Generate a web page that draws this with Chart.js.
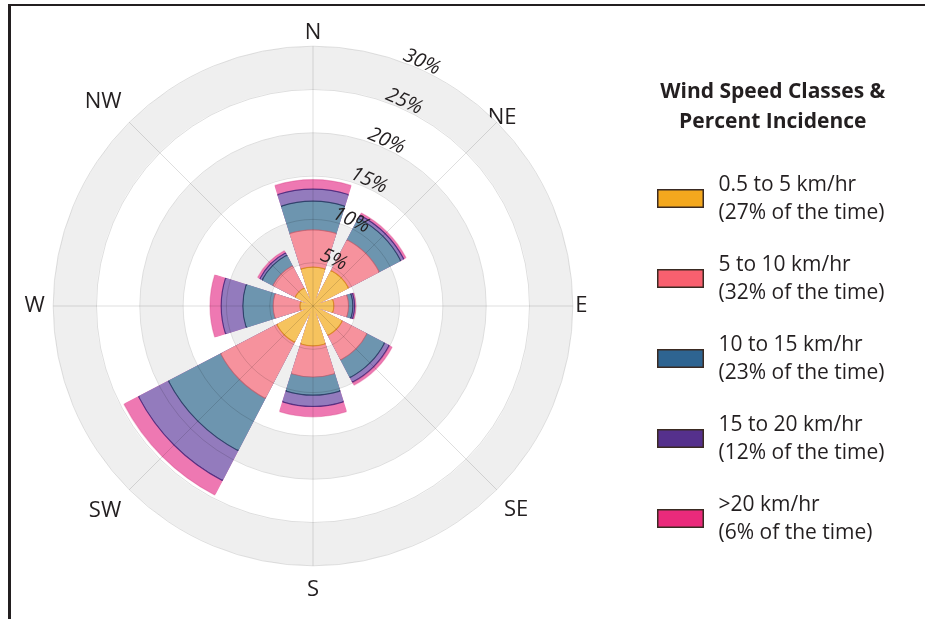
<!DOCTYPE html>
<html>
<head>
<meta charset="utf-8">
<script src="https://cdn.jsdelivr.net/npm/chart.js@4.4.1/dist/chart.umd.min.js"></script>
<style>
  html, body { margin: 0; padding: 0; background: #ffffff; width: 925px; height: 619px; overflow: hidden; position: relative; }
  #frame { position: absolute; left: 8px; top: 4px; right: -20px; bottom: -20px; border-top: 2px solid #231f20; border-left: 3px solid #231f20; }
  #wrap { position: absolute; left: -25px; top: 0; width: 950px; height: 619px; }
</style>
</head>
<body>
<div id="frame"></div>
<div id="wrap"><canvas id="rose"></canvas></div>
<script>
// ---------------- data (percent of time) ----------------
const directions = ['N', 'NE', 'E', 'SE', 'S', 'SW', 'W', 'NW'];
const speedClasses = ['0.5 to 5 km/hr', '5 to 10 km/hr', '10 to 15 km/hr', '15 to 20 km/hr', '>20 km/hr'];
const classIncidence = [27, 32, 23, 12, 6];

const speed0to5   = [4.5, 4.6, 2.4, 3.8, 4.6, 4.7, 1.5, 2.3];
const speed5to10  = [4.3, 4.0, 1.7, 3.2, 3.6, 7.3, 3.1, 2.9];
const speed10to15 = [3.3, 2.8, 0.5, 2.3, 2.1, 6.8, 3.5, 1.4];
const speed15to20 = [1.4, 0.4, 0.2, 0.6, 1.3, 3.9, 2.5, 0.3];
const speedOver20 = [1.1, 0.3, 0.15, 0.4, 1.2, 1.9, 1.3, 0.3];

const radialTickValues = [5, 10, 15, 20, 25, 30];

// ---------------- styling ----------------
const FONT = '"Open Sans", "Noto Sans", sans-serif';
const TEXT = '#231f20';
const fillColors = ['#F6C35E', '#F6929D', '#6D95AF', '#937BBD', '#EE78B2'];
const edgeColors = ['rgba(214,130,30,0.85)', 'rgba(190,80,95,0.6)', 'rgba(35,55,95,0.85)', 'rgba(70,35,120,0.85)', 'rgba(215,60,130,0.35)'];
const swatchColors = ['#F4A81E', '#F8606F', '#2E6491', '#55308C', '#EA2A7B'];
const BAND = '#efefef';
const LINE = 'rgba(0,0,0,0.13)';

const TICK_ANGLE = 24;        // direction of the % labels (deg from north)
const TICK_LABEL_LIFT = 0.85; // % labels sit just outside their circle
const SLOT = 3;               // angular resolution of label slots
const BAR_WIDTH = 35;         // angular width of each petal (deg)
const LABEL_PAD = { N: -9.7, NE: -22.7, E: -7.5, SE: 0.3, S: 0.3, SW: 1.4, W: -1.5, NW: 1 };
const DIR_FONT = { family: FONT, size: 22 };
const TICK_FONT = { family: FONT, size: 20, style: 'italic' };

// label slots round the dial, direction names where they fall
const slotLabels = Array.from({ length: 360 / SLOT }, (_, k) => {
  const a = (TICK_ANGLE + SLOT * k) % 360;
  return a % 45 === 0 ? directions[a / 45] : '';
});

// petals and the gaps between them, in drawing order from TICK_ANGLE
const petals = directions.map((d, i) => ({ dir: i, start: (((45 * i - BAR_WIDTH / 2 - TICK_ANGLE) % 360) + 360) % 360 }))
  .sort((a, b) => a.start - b.start);
const arcDir = [];
const arcAngle = [];
let cursorAngle = 0;
petals.forEach(p => {
  if (p.start > cursorAngle + 1e-9) { arcDir.push(-1); arcAngle.push(p.start - cursorAngle); }
  arcDir.push(p.dir); arcAngle.push(BAR_WIDTH);
  cursorAngle = p.start + BAR_WIDTH;
});
if (cursorAngle < 360 - 1e-9) { arcDir.push(-1); arcAngle.push(360 - cursorAngle); }

// edge only on the outer rim of each class ring
function rimColor(c, ci) {
  if (arcDir[c.dataIndex] < 0) return 'rgba(0,0,0,0)';
  const sc = c.chart.scales && c.chart.scales.r;
  if (!sc || !sc.drawingArea) return fillColors[ci];
  const r = sc.getDistanceFromCenterForValue(c.raw);
  if (!(r > 3)) return edgeColors[ci];
  const g = c.chart.ctx.createRadialGradient(sc.xCenter, sc.yCenter, 0, sc.xCenter, sc.yCenter, r + 2);
  g.addColorStop(0, fillColors[ci]);
  g.addColorStop((r - 1.3) / (r + 2), fillColors[ci]);
  g.addColorStop((r - 0.7) / (r + 2), edgeColors[ci]);
  g.addColorStop(1, edgeColors[ci]);
  return g;
}

const classSeries = [speed0to5, speed5to10, speed10to15, speed15to20, speedOver20];
const datasets = classSeries.map((series, ci) => ({
  label: speedClasses[ci],
  data: arcDir.map(d => d < 0 ? 0 : classSeries.slice(0, ci + 1).reduce((s, arr) => s + arr[d], 0)),
  backgroundColor: fillColors[ci],
  borderColor: (c) => rimColor(c, ci),
  borderWidth: (c) => arcDir[c.dataIndex] < 0 ? 0 : 1.2,
  angle: (c) => arcAngle[c.dataIndex]
}));

// legend swatches (box sits between the two text lines)
function makeSwatch(color) {
  const c = document.createElement('canvas');
  c.width = 69; c.height = 48;
  const g = c.getContext('2d');
  g.fillStyle = color;
  g.fillRect(1, 29, 45, 17);
  g.strokeStyle = '#3a2a22';
  g.lineWidth = 1.5;
  g.strokeRect(0.75, 28.75, 45.5, 17.5);
  return c;
}
const swatches = swatchColors.map(makeSwatch);

const legendLines = speedClasses.map((cls, i) => [cls, '(' + classIncidence[i] + '% of the time)']);

// legend width -> right padding so that the chart area ends where the legend begins
const LEGEND_FONT_SIZE = 21;
const meas = document.createElement('canvas').getContext('2d');
meas.font = LEGEND_FONT_SIZE + 'px ' + FONT;
const longest = Math.max(...legendLines.map(l => meas.measureText(l.reduce((a, b) => a.length > b.length ? a : b)).width));
const LEGEND_PAD = 24, PS_W = 33, LEGEND_LEFT = 676;
const rightPad = 950 - LEGEND_LEFT - (LEGEND_PAD + PS_W + LEGEND_FONT_SIZE / 2 + longest + 10);

const isBand = (v) => v % 5 === 2.5 && Math.floor(v / 5) % 2 === 1;

const pointLabelOpts = (visible) => ({
  display: true,
  font: DIR_FONT,
  color: visible ? TEXT : 'rgba(0,0,0,0)',
  padding: (c) => (LABEL_PAD[c.label] !== undefined ? LABEL_PAD[c.label] : 0)
});

const chart = new Chart(document.getElementById('rose'), {
  type: 'polarArea',
  data: { labels: slotLabels, datasets },
  options: {
    responsive: true,
    maintainAspectRatio: false,
    animation: false,
    layout: { padding: { left: 0, right: rightPad, top: 10.5, bottom: 15.5 } },
    scales: {
      // value axis: shaded bands behind the petals
      r: {
        type: 'radialLinear', min: 0, max: 30, startAngle: TICK_ANGLE,
        ticks: {
          display: true, stepSize: 2.5, maxTicksLimit: 20,
          showLabelBackdrop: false, backdropPadding: 0, font: TICK_FONT,
          callback: () => ''
        },
        grid: {
          circular: true,
          color: (c) => isBand(c.tick.value) ? BAND : 'rgba(0,0,0,0)',
          lineWidth: (c) => isBand(c.tick.value) ? c.scale.getDistanceFromCenterForValue(5) - 1 : 0
        },
        angleLines: { display: false },
        pointLabels: pointLabelOpts(true)
      },
      // thin circles and spokes, drawn over the petals
      r2: {
        type: 'radialLinear', min: 0, max: 30, startAngle: TICK_ANGLE,
        ticks: {
          display: true, stepSize: 5, showLabelBackdrop: false, backdropPadding: 0, font: TICK_FONT,
          callback: () => ''
        },
        grid: { circular: true, z: 1, color: LINE, lineWidth: 1 },
        angleLines: { display: true, color: LINE, lineWidth: (c) => c.label ? 1 : 0 },
        pointLabels: pointLabelOpts(false)
      },
      // percent labels, set just outside each circle
      rt: {
        type: 'radialLinear', min: -TICK_LABEL_LIFT, max: 30 - TICK_LABEL_LIFT, startAngle: TICK_ANGLE,
        afterBuildTicks: (axis) => { axis.ticks = radialTickValues.map(v => ({ value: v })); },
        ticks: {
          display: true, z: 2, showLabelBackdrop: false, backdropPadding: 0,
          color: TEXT, font: TICK_FONT,
          callback: (v) => v + '%'
        },
        grid: { display: false },
        angleLines: { display: false },
        pointLabels: pointLabelOpts(false)
      }
    },
    plugins: {
      tooltip: { enabled: false },
      legend: {
        position: 'right',
        align: 'center',
        onClick: () => {},
        title: {
          display: true,
          text: ['Wind Speed Classes &', 'Percent Incidence'],
          color: TEXT,
          font: { family: FONT, size: 21, weight: 'bold', lineHeight: '30px' },
          padding: { top: 42, bottom: 39 }
        },
        labels: {
          usePointStyle: true,
          pointStyleWidth: PS_W,
          padding: LEGEND_PAD,
          color: TEXT,
          font: { family: FONT, size: LEGEND_FONT_SIZE, lineHeight: '28px' },
          generateLabels: () => speedClasses.map((cls, i) => ({
            text: legendLines[i],
            pointStyle: swatches[i],
            fillStyle: swatchColors[i],
            strokeStyle: '#3a2a22',
            lineWidth: 1,
            fontColor: TEXT,
            hidden: false,
            datasetIndex: i
          }))
        }
      }
    }
  }
});
</script>
</body>
</html>
